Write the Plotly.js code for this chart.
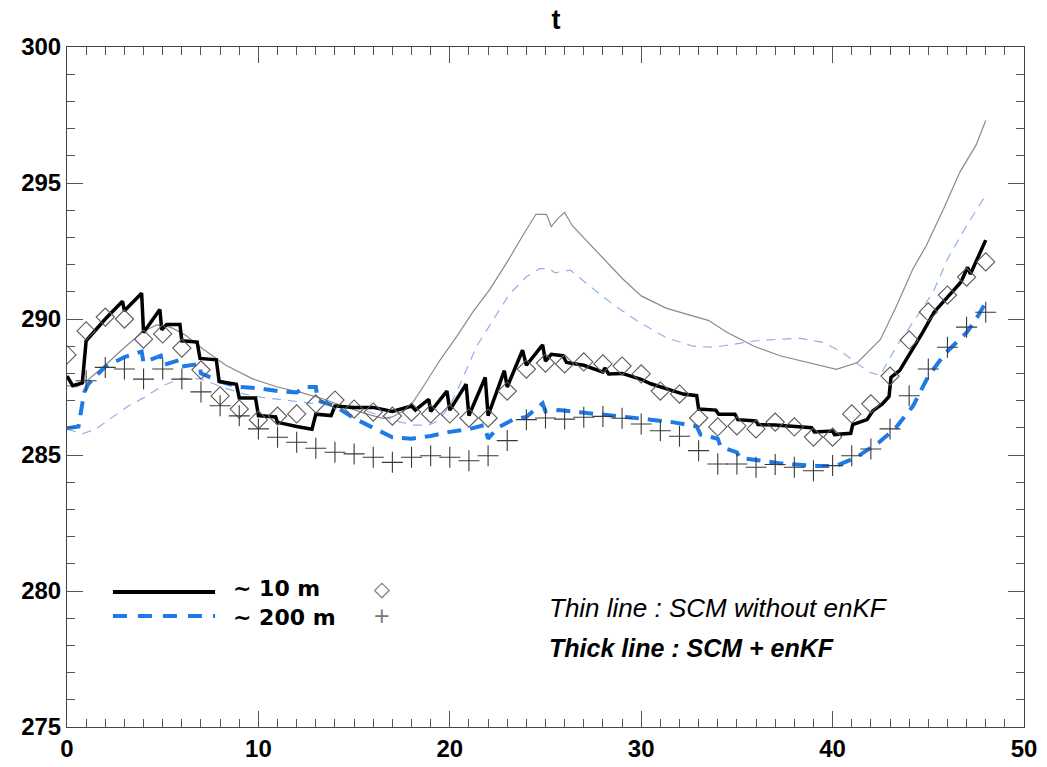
<!DOCTYPE html>
<html>
<head>
<meta charset="utf-8">
<script src="https://cdn.plot.ly/plotly-3.0.1.min.js"></script>
<style>html,body{margin:0;padding:0;background:#fff;}#chart{width:1047px;height:767px;}</style>
</head>
<body>
<div id="chart"></div>
<script>
// Observations (hourly)
const obsHours = [0,1,2,3,4,5,6,7,8,9,10,11,12,13,14,15,16,17,18,19,20,21,22,23,24,25,26,27,28,29,30,31,32,33,34,35,36,37,38,39,40,41,42,43,44,45,46,47,48];
const obs10m = [288.68,289.56,290.07,290.0,289.26,289.45,288.93,288.13,287.17,286.69,286.29,286.43,286.51,286.88,287.02,286.69,286.58,286.43,286.58,286.51,286.51,286.36,286.36,287.35,288.16,288.38,288.35,288.42,288.35,288.27,287.98,287.35,287.24,286.36,286.03,286.07,285.96,286.21,286.03,285.66,285.66,286.51,286.88,287.9,289.23,290.26,290.88,291.54,292.1];
const obs200m = [null,287.73,288.22,288.16,287.79,288.16,287.79,287.32,286.81,286.44,285.96,285.65,285.47,285.25,285.1,285.04,284.92,284.73,284.92,284.97,284.92,284.79,284.97,285.53,286.30,286.36,286.32,286.39,286.42,286.35,286.14,285.89,285.69,285.16,284.67,284.67,284.55,284.65,284.55,284.42,284.61,284.97,285.22,285.96,287.18,288.16,288.96,289.70,290.25];

// SCM + enKF, ~10 m (thick black)
const enkf10_t = [0,0.3,0.8,1.0,2.0,2.9,3.0,3.9,4.0,4.85,4.95,5.2,5.9,6.0,6.8,6.95,7.8,7.95,8.85,9.0,9.85,10.0,10.9,11.0,12.0,12.8,13.0,13.8,14.0,15.0,16.0,17.0,17.5,18.0,18.2,18.9,19.0,19.85,20.0,20.85,21.0,21.85,22.0,22.85,23.0,23.8,24.0,24.85,25.0,25.3,25.9,26.1,27.0,28.0,28.1,28.3,29.0,30.0,30.5,31.3,32.2,32.9,33.0,33.9,34.05,34.9,35.05,36.0,36.1,37.0,38.9,39.05,40.0,40.1,40.95,41.05,41.8,42.1,42.6,42.95,43.05,43.5,44.2,44.7,45.3,46.0,46.7,47.05,47.2,48.0];
const enkf10_v = [287.9,287.55,287.65,289.2,290.0,290.65,290.3,290.95,289.5,290.35,289.6,289.8,289.8,289.2,289.15,288.55,288.5,287.7,287.6,287.1,287.1,286.45,286.4,286.2,286.05,285.95,286.5,286.45,286.8,286.75,286.75,286.6,286.7,286.8,286.65,287.05,286.6,287.35,286.65,287.6,286.45,287.85,286.45,288.1,287.5,288.85,288.3,289.05,288.45,288.7,288.65,288.4,288.3,288.05,288.2,287.98,288.0,287.78,287.62,287.43,287.24,287.18,286.69,286.65,286.5,286.5,286.3,286.25,286.12,286.1,286.0,285.85,285.88,285.75,285.8,286.12,286.3,286.62,286.88,287.15,287.85,288.1,288.9,289.5,290.25,290.8,291.35,291.9,291.65,292.9];

// SCM + enKF, ~200 m (thick blue dashed)
const enkf200_t = [0,0.6,0.9,1.1,2,3,3.9,4.0,4.9,5.0,5.9,6.0,6.9,7.0,8,9,10,11,12,12.4,13.0,13.1,14,15,16,17,18,19,20,21,21.8,22.0,22.5,23.3,24,24.85,25.0,25.7,26.8,28,29.3,30.5,31.7,32.9,33.1,34.0,34.15,35.0,35.15,36.2,37.2,39,40.2,41.2,42.4,43.3,44.2,45.0,45.9,47.0,47.5,48];
const enkf200_v = [285.98,286.05,287.3,287.6,288.25,288.6,288.8,288.4,288.65,288.3,288.5,288.25,288.35,288.0,287.7,287.5,287.45,287.35,287.3,287.5,287.5,287.0,286.8,286.35,286.0,285.65,285.6,285.7,285.85,285.95,286.1,285.6,286.0,286.3,286.4,286.9,286.6,286.65,286.57,286.47,286.39,286.3,286.2,286.05,285.75,285.6,285.3,285.1,284.9,284.8,284.7,284.6,284.6,284.9,285.45,286.0,286.8,287.9,288.75,289.5,290.0,290.6];

// SCM without enKF, ~10 m (thin grey)
const scm10_t = [0,0.5,1,2,3,4,4.7,5.4,6.2,7.1,8.3,9.7,11,12.2,13.4,14.4,15.6,16.5,17.0,17.9,18.6,19.5,20.4,21.2,22.1,23.0,23.8,24.5,25.05,25.3,25.65,26.0,26.4,27.8,29.0,30.0,31.3,32.5,33.5,34.5,35.9,37.25,39,40.2,41.3,42.5,43.35,44.2,44.9,45.8,46.65,47.5,48];
const scm10_v = [287.55,287.5,287.7,288.3,288.95,289.55,289.78,289.7,289.4,288.9,288.3,287.8,287.5,287.3,287.06,286.8,286.52,286.35,286.4,286.75,287.5,288.5,289.4,290.25,291.1,292.1,293.05,293.85,293.85,293.4,293.7,293.92,293.43,292.4,291.5,290.85,290.4,290.15,289.95,289.5,289.0,288.65,288.35,288.15,288.4,289.25,290.5,291.85,292.7,294.05,295.4,296.4,297.3];

// SCM without enKF, ~200 m (thin light blue dashed)
const scm200_t = [0,0.8,1.5,2.4,3.2,4.0,5.0,6.0,7.0,8.1,9.2,10.2,11.6,12.8,13.9,15.5,17.0,18.0,18.9,19.4,20.0,20.6,21.4,22.3,23.1,24.0,24.7,25.2,25.5,26.3,27.15,28.5,29.9,31.3,32.7,33.8,34.8,36.0,37.3,38.3,39.5,40.5,41.3,41.95,42.5,42.85,43.35,44.2,45.25,46.0,47.0,48];
const scm200_v = [285.95,285.78,285.95,286.4,286.8,287.1,287.55,287.82,287.8,287.5,287.25,287.12,287.0,286.9,286.9,286.65,286.3,286.1,286.1,286.25,286.8,287.7,289.0,290.0,290.9,291.55,291.85,291.85,291.7,291.8,291.3,290.55,289.88,289.32,289.0,288.96,289.08,289.2,289.26,289.29,289.14,288.78,288.35,288.04,287.92,288.4,289.0,289.88,290.98,292.2,293.43,294.55];

// Text
const titleText = 't';
const legendLabels = ['~ 10 m', '~ 200 m'];
const noteThin = 'Thin line : SCM without enKF';
const noteThick = 'Thick line : SCM + enKF';

const FONT = 'Arial, "Liberation Sans", sans-serif';
const WIDE = '"DejaVu Sans", Arial, sans-serif';

const traces = [
  {x: scm200_t, y: scm200_v, mode: 'lines', line: {color: '#8fb0ea', width: 1.2, dash: '9px,7px'}, showlegend: false, hoverinfo: 'skip'},
  {x: scm10_t, y: scm10_v, mode: 'lines', line: {color: '#8a8a8a', width: 1.2}, showlegend: false, hoverinfo: 'skip'},
  {x: enkf200_t, y: enkf200_v, mode: 'lines', line: {color: '#1f7ae8', width: 4, dash: '14px,9px'}, showlegend: false},
  {x: enkf10_t, y: enkf10_v, mode: 'lines', line: {color: '#000000', width: 3.5}, showlegend: false},
  {x: obsHours, y: obs10m, mode: 'markers', marker: {symbol: 'diamond-open', size: 14, color: '#5a5a5a', line: {width: 1.1}}, showlegend: false},
  {x: obsHours, y: obs200m, mode: 'markers', marker: {symbol: 'cross-thin-open', size: 15, color: '#3a3a3a', line: {width: 1.1, color: '#3a3a3a'}}, showlegend: false}
];

const axisCommon = {
  showgrid: false, zeroline: false, showline: true, linecolor: '#444', linewidth: 1,
  ticks: 'inside', tickcolor: '#555', mirror: 'allticks',
  tickfont: {family: FONT, size: 24, color: '#000', weight: 700}
};

const layout = {
  width: 1047, height: 767,
  margin: {l: 67, r: 23, t: 47, b: 40},
  paper_bgcolor: '#fff', plot_bgcolor: '#fff',
  showlegend: false,
  title: {text: titleText, x: 0.531, xanchor: 'center', y: 0.975, yanchor: 'middle', font: {family: FONT, size: 27, color: '#000', weight: 700}},
  xaxis: Object.assign({}, axisCommon, {range: [0, 50], dtick: 10, tick0: 0, ticklen: 16,
    minor: {dtick: 1, ticklen: 8, ticks: 'inside', tickcolor: '#555'}}),
  yaxis: Object.assign({}, axisCommon, {range: [275, 300], dtick: 5, tick0: 275, ticklen: 16,
    minor: {dtick: 1, ticklen: 8, ticks: 'inside', tickcolor: '#555'}}),
  shapes: [
    {type: 'line', xref: 'paper', yref: 'paper', x0: 0.048, x1: 0.1547, y0: 0.1985, y1: 0.1985, line: {color: '#000', width: 4}},
    {type: 'line', xref: 'paper', yref: 'paper', x0: 0.048, x1: 0.1547, y0: 0.1632, y1: 0.1632, line: {color: '#1f7ae8', width: 4, dash: '14px,11px'}}
  ],
  annotations: [
    {xref: 'paper', yref: 'paper', x: 0.171, y: 0.183, xanchor: 'left', yanchor: 'middle', align: 'left',
      text: legendLabels[0] + '<br>' + legendLabels[1], showarrow: false,
      font: {family: WIDE, size: 22, color: '#000', weight: 700}},
    {xref: 'paper', yref: 'paper', x: 0.329, y: 0.183, xanchor: 'center', yanchor: 'middle', align: 'center',
      text: '\u25C7<br>+', showarrow: false, font: {family: 'DejaVu Sans', size: 21, color: '#777'}},
    {xref: 'paper', yref: 'paper', x: 0.502, y: 0.175, xanchor: 'left', yanchor: 'middle', text: '<i>' + noteThin + '</i>', showarrow: false, font: {family: FONT, size: 26, color: '#000'}},
    {xref: 'paper', yref: 'paper', x: 0.502, y: 0.116, xanchor: 'left', yanchor: 'middle', text: '<b><i>' + noteThick + '</i></b>', showarrow: false, font: {family: FONT, size: 25, color: '#000'}}
  ]
};

Plotly.newPlot('chart', traces, layout, {displayModeBar: false, staticPlot: true});
</script>
</body>
</html>
